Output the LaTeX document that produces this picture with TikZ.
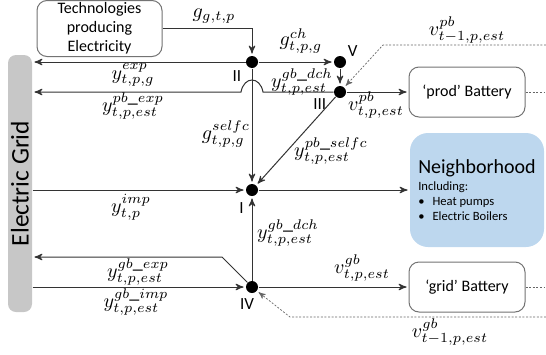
\documentclass[tikz,border=0pt]{standalone}
\usepackage{fontspec}
\setmainfont{Carlito}
\usetikzlibrary{arrows,positioning}

\definecolor{nbhblue}{HTML}{BDD7EE}

\begin{document}
\begin{tikzpicture}[x=0.5pt,y=-0.5pt,->,>=stealth',shorten >=1pt,line width=0.5pt,
    dot node/.style={circle,fill=black,inner sep=0pt,minimum size=6pt},
    box node/.style={draw=black!55,rounded corners=5pt,fill=white,align=center,inner sep=1pt,font=\fontsize{8}{9.5}\selectfont,minimum width=58pt,minimum height=25pt},
    num/.style={inner sep=0pt,font=\fontsize{8.5}{10}\selectfont},
    lbl/.style={inner sep=0pt},
    flow/.style={draw=black!80},
    past/.style={dash pattern=on 1pt off 0.8pt,draw=black!60,line width=0.35pt}]
    \useasboundingbox (0,0) rectangle (546,354);

    % blocks
    \node[fill=black!22,rounded corners=4pt,inner sep=0pt,minimum width=12pt,minimum height=128.5pt] (grid) at (20,183.5) {\rotatebox{90}{\fontsize{12.7}{14}\selectfont Electric Grid}};
    \node[box node,minimum width=62.5pt,minimum height=28pt] (tech) at (99.5,28.5) {Technologies\\producing\\Electricity};
    \node[box node] (pb) at (467,92) {`prod' Battery};
    \node[box node] (gb) at (467,287) {`grid' Battery};
    \node[fill=nbhblue,rounded corners=9pt,minimum width=67pt,minimum height=57pt,align=left,font=\fontsize{6.3}{7.5}\selectfont] (nbh) at (477,190)
        {{\fontsize{10}{10}\selectfont Neighborhood}\\[1pt] Including:\\ \textbullet\hspace{4pt}Heat pumps\\ \textbullet\hspace{4pt}Electric Boilers};

    % balance points
    \node[dot node] (I) at (252,190) {};
    \node[dot node] (II) at (252,62) {};
    \node[dot node] (III) at (340,92) {};
    \node[dot node] (IV) at (252,287) {};
    \node[dot node] (V) at (340,62) {};
    \node[num,below left=1.9pt and 2.9pt of II] {II};
    \node[num,below left=0.9pt and 4.4pt of III] {III};
    \node[num,below left=3.9pt and 1.6pt of I] {I};
    \node[num,below=2.5pt of IV,xshift=-2.5pt] {IV};
    \node[num,above right=0pt and 1.4pt of V] {V};

    \coordinate (hopR) at (263,92);
    \coordinate (hopL) at (241,92);
    \coordinate (bendgb) at (222,257);
    \coordinate (pbtop) at (383,45);
    \coordinate (pbedge) at (546,45);
    \coordinate (gbbot) at (290,317);
    \coordinate (gbedge) at (546,317);

    % flows
    \draw[flow] (tech.east) -| (II);
    \draw[flow] (II) -- (grid.east |- II);
    \draw[flow] (II) -- (V);
    \draw[flow] (V) -- (III);
    \draw[flow] (III) -- (hopR) .. controls +(-3,-16) and +(3,-16) .. (hopL) -- (grid.east |- III);
    \draw[flow] (III) -- (pb);
    \draw[flow] (III) -- (I);
    \draw[flow] (II) -- (I);
    \draw[flow] (grid.east |- I) -- (I);
    \draw[flow] (I) -- (nbh);
    \draw[flow] (IV) -- (I);
    \draw[flow] (IV) -- (bendgb) -- (grid.east |- bendgb);
    \draw[flow] (grid.east |- IV) -- (IV);
    \draw[flow] (IV) -- (gb);
    \draw[past] (pbedge) -- (pbtop) -- (III);
    \draw[past,-] (pb.east) -- (pb.east -| pbedge);
    \draw[past] (gbedge) -- (gbbot) -- (IV);
    \draw[past,-] (gb.east) -- (gb.east -| gbedge);

    % labels
    \node[lbl] at (214,16) {$g_{g,t,p}$};
    \node[lbl] at (133,75) {$y^{exp}_{t,p,g}$};
    \node[lbl] at (133,106) {$y^{pb\_exp}_{t,p,est}$};
    \node[lbl] at (301,41) {$g^{ch}_{t,p,g}$};
    \node[lbl] at (302,82) {$y^{gb\_dch}_{t,p,est}$};
    \node[lbl] at (376,105) {$v^{pb}_{t,p,est}$};
    \node[lbl] at (467,30) {$v^{pb}_{t-1,p,est}$};
    \node[lbl] at (331,151) {$y^{pb\_selfc}_{t,p,est}$};
    \node[lbl] at (226,134) {$g^{selfc}_{t,p,g}$};
    \node[lbl] at (131,207) {$y^{imp}_{t,p}$};
    \node[lbl] at (288,233) {$y^{gb\_dch}_{t,p,est}$};
    \node[lbl] at (138,272) {$y^{gb\_exp}_{t,p,est}$};
    \node[lbl] at (136,302) {$y^{gb\_imp}_{t,p,est}$};
    \node[lbl] at (362,268) {$v^{gb}_{t,p,est}$};
    \node[lbl] at (450,332) {$v^{gb}_{t-1,p,est}$};
\end{tikzpicture}
\end{document}
